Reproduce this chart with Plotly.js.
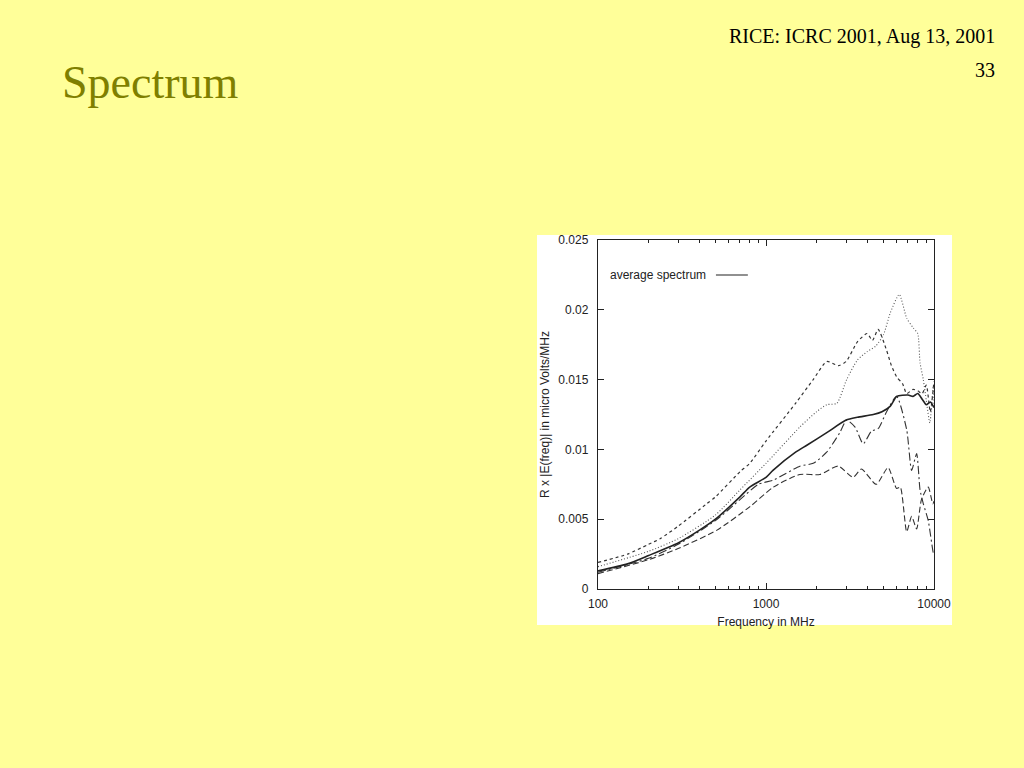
<!DOCTYPE html>
<html>
<head>
<meta charset="utf-8">
<script src="https://cdn.plot.ly/plotly-3.0.1.min.js"></script>
<style>
html,body{margin:0;padding:0;background:#FFFF99;}
#chart{width:1024px;height:768px;}
</style>
</head>
<body>
<div id="chart"></div>
<script>
// Average spectrum (solid)
const avgFreq = [100,150,200,300,400,500,700,800,1000,1100,1500,1750,2300,3000,3500,4350,4900,5500,6000,7000,7500,8000,8500,9000,9500,10000];
const avgVal  = [0.0013,0.0018,0.0024,0.0033,0.0042,0.0050,0.0066,0.0073,0.0080,0.0085,0.0098,0.0103,0.0112,0.0121,0.0123,0.0125,0.0127,0.0131,0.0138,0.0139,0.0138,0.0140,0.0136,0.0132,0.0134,0.0130];

// Short-dashed (highest at low frequency)
const dashFreq = [100,150,200,234,300,443,500,700,800,1000,1500,1910,2300,2700,3000,3500,4000,4300,4650,5220,5580,5990,6500,6880,7500,8000,8500,9000,9500,10000];
const dashVal  = [0.0019,0.0025,0.0032,0.0036,0.0045,0.0061,0.0066,0.0084,0.0090,0.0106,0.0133,0.0150,0.0163,0.0160,0.0163,0.0177,0.0183,0.0178,0.0186,0.0171,0.0160,0.0152,0.0147,0.0140,0.0143,0.0142,0.0140,0.0146,0.0127,0.0149];

// Dotted (peak near 6200 MHz)
const dotFreq = [100,200,300,500,700,1000,1590,2000,2300,2640,3020,3500,4000,4500,5000,5500,6210,6880,7530,8000,8260,8640,9000,9450,9900,10000];
const dotVal  = [0.0016,0.0027,0.0036,0.0053,0.0071,0.0090,0.0116,0.0127,0.0132,0.0133,0.0150,0.0164,0.0170,0.0174,0.0182,0.0198,0.0211,0.0194,0.0187,0.0183,0.0162,0.0150,0.0135,0.0119,0.0145,0.0132];

// Dash-dot
const ddFreq = [100,200,300,500,700,900,1106,1590,1910,2296,2750,3020,3390,3790,4240,4660,5220,5990,6880,7360,7880,8260,8640,9240,9900,10000];
const ddVal  = [0.0012,0.0022,0.0032,0.0049,0.0064,0.0075,0.0078,0.0088,0.0090,0.0098,0.0112,0.0121,0.0116,0.0104,0.0113,0.0115,0.0127,0.0138,0.0114,0.0085,0.0097,0.0071,0.0061,0.0049,0.0026,0.0025];

// Long-dashed (lowest at high frequency)
const ldFreq = [100,200,300,508,803,1106,1590,2090,2690,3300,3700,4530,5330,5990,6300,6880,7360,7880,8420,9240,9840,10000];
const ldVal  = [0.0011,0.0021,0.0029,0.0042,0.0059,0.0073,0.0082,0.0082,0.0088,0.0080,0.0086,0.0075,0.0087,0.0072,0.0073,0.0041,0.0052,0.0043,0.0064,0.0073,0.0061,0.0063];

const xTickVals = [100,1000,10000];
const xTickText = ['100','1000','10000'];
const xMinor = [200,300,400,500,600,700,800,900,2000,3000,4000,5000,6000,7000,8000,9000];
const yTickVals = [0,0.005,0.01,0.015,0.02,0.025];
const yTickText = ['0','0.005','0.01','0.015','0.02','0.025'];

const traces = [
  {x: dashFreq, y: dashVal, mode:'lines', line:{color:'#333', width:1.2, dash:'3px,3px', shape:'spline', smoothing:0.6}, name:'s1', showlegend:false},
  {x: dotFreq, y: dotVal, mode:'lines', line:{color:'#555', width:1.1, dash:'1px,2px', shape:'spline', smoothing:0.6}, name:'s2', showlegend:false},
  {x: ddFreq, y: ddVal, mode:'lines', line:{color:'#333', width:1.1, dash:'8px,3px,2px,3px', shape:'spline', smoothing:0.6}, name:'s3', showlegend:false},
  {x: ldFreq, y: ldVal, mode:'lines', line:{color:'#333', width:1.1, dash:'6px,3px', shape:'spline', smoothing:0.6}, name:'s4', showlegend:false},
  {x: avgFreq, y: avgVal, mode:'lines', line:{color:'#222', width:1.6, shape:'spline', smoothing:0.6}, name:'average spectrum', showlegend:false}
];

const axisFont = {family:'Liberation Sans, Arial, sans-serif', size:12, color:'#222'};

const layout = {
  width:1024, height:768,
  paper_bgcolor:'#FFFF99',
  plot_bgcolor:'#FFFFFF',
  margin:{l:598, r:90, t:240, b:179},
  showlegend:false,
  xaxis:{
    type:'log', range:[2,4],
    tickmode:'array', tickvals:xTickVals, ticktext:xTickText,
    ticks:'inside', ticklen:6, tickwidth:1, tickcolor:'#222',
    minor:{tickmode:'array', tickvals:xMinor, ticks:'inside', ticklen:3, tickcolor:'#222'},
    showline:true, linecolor:'#222', linewidth:1.2, mirror:'ticks',
    showgrid:false, zeroline:false,
    tickfont:axisFont, ticklabelstandoff:3,
    title:{text:'Frequency in MHz', font:axisFont, standoff:8}
  },
  yaxis:{
    range:[0,0.025],
    tickmode:'array', tickvals:yTickVals, ticktext:yTickText,
    ticks:'inside', ticklen:6, tickwidth:1, tickcolor:'#222',
    showline:true, linecolor:'#222', linewidth:1.2, mirror:'ticks',
    showgrid:false, zeroline:false,
    tickfont:axisFont, ticklabelstandoff:6,
    title:{text:'R x |E(freq)| in micro Volts/MHz', font:axisFont, standoff:6}
  },
  shapes:[
    {type:'rect', xref:'paper', yref:'paper', x0:-0.1815, x1:1.0536, y0:-0.1032, y1:1.0143,
     fillcolor:'#FFFFFF', line:{width:0}, layer:'below'},
    {type:'line', xref:'paper', yref:'paper', x0:0.351, x1:0.446, y0:0.8997, y1:0.8997,
     line:{color:'#222', width:1.2}}
  ],
  annotations:[
    {xref:'paper', yref:'paper', x:0.327, y:0.8997, xanchor:'right', yanchor:'middle',
     text:'average spectrum', showarrow:false, font:axisFont},
    {xref:'paper', yref:'paper', x:(60-598)/336, y:(589-82)/349, xanchor:'left', yanchor:'middle',
     text:'Spectrum', showarrow:false,
     font:{family:'Liberation Serif, Times New Roman, serif', size:46, color:'#7F7F00'}},
    {xref:'paper', yref:'paper', x:(997-598)/336, y:(589-36)/349, xanchor:'right', yanchor:'middle',
     text:'RICE: ICRC 2001, Aug 13, 2001', showarrow:false,
     font:{family:'Liberation Serif, Times New Roman, serif', size:20, color:'#000'}},
    {xref:'paper', yref:'paper', x:(997-598)/336, y:(589-70)/349, xanchor:'right', yanchor:'middle',
     text:'33', showarrow:false,
     font:{family:'Liberation Serif, Times New Roman, serif', size:20, color:'#000'}}
  ]
};

Plotly.newPlot('chart', traces, layout, {displayModeBar:false, staticPlot:true});
</script>
</body>
</html>
